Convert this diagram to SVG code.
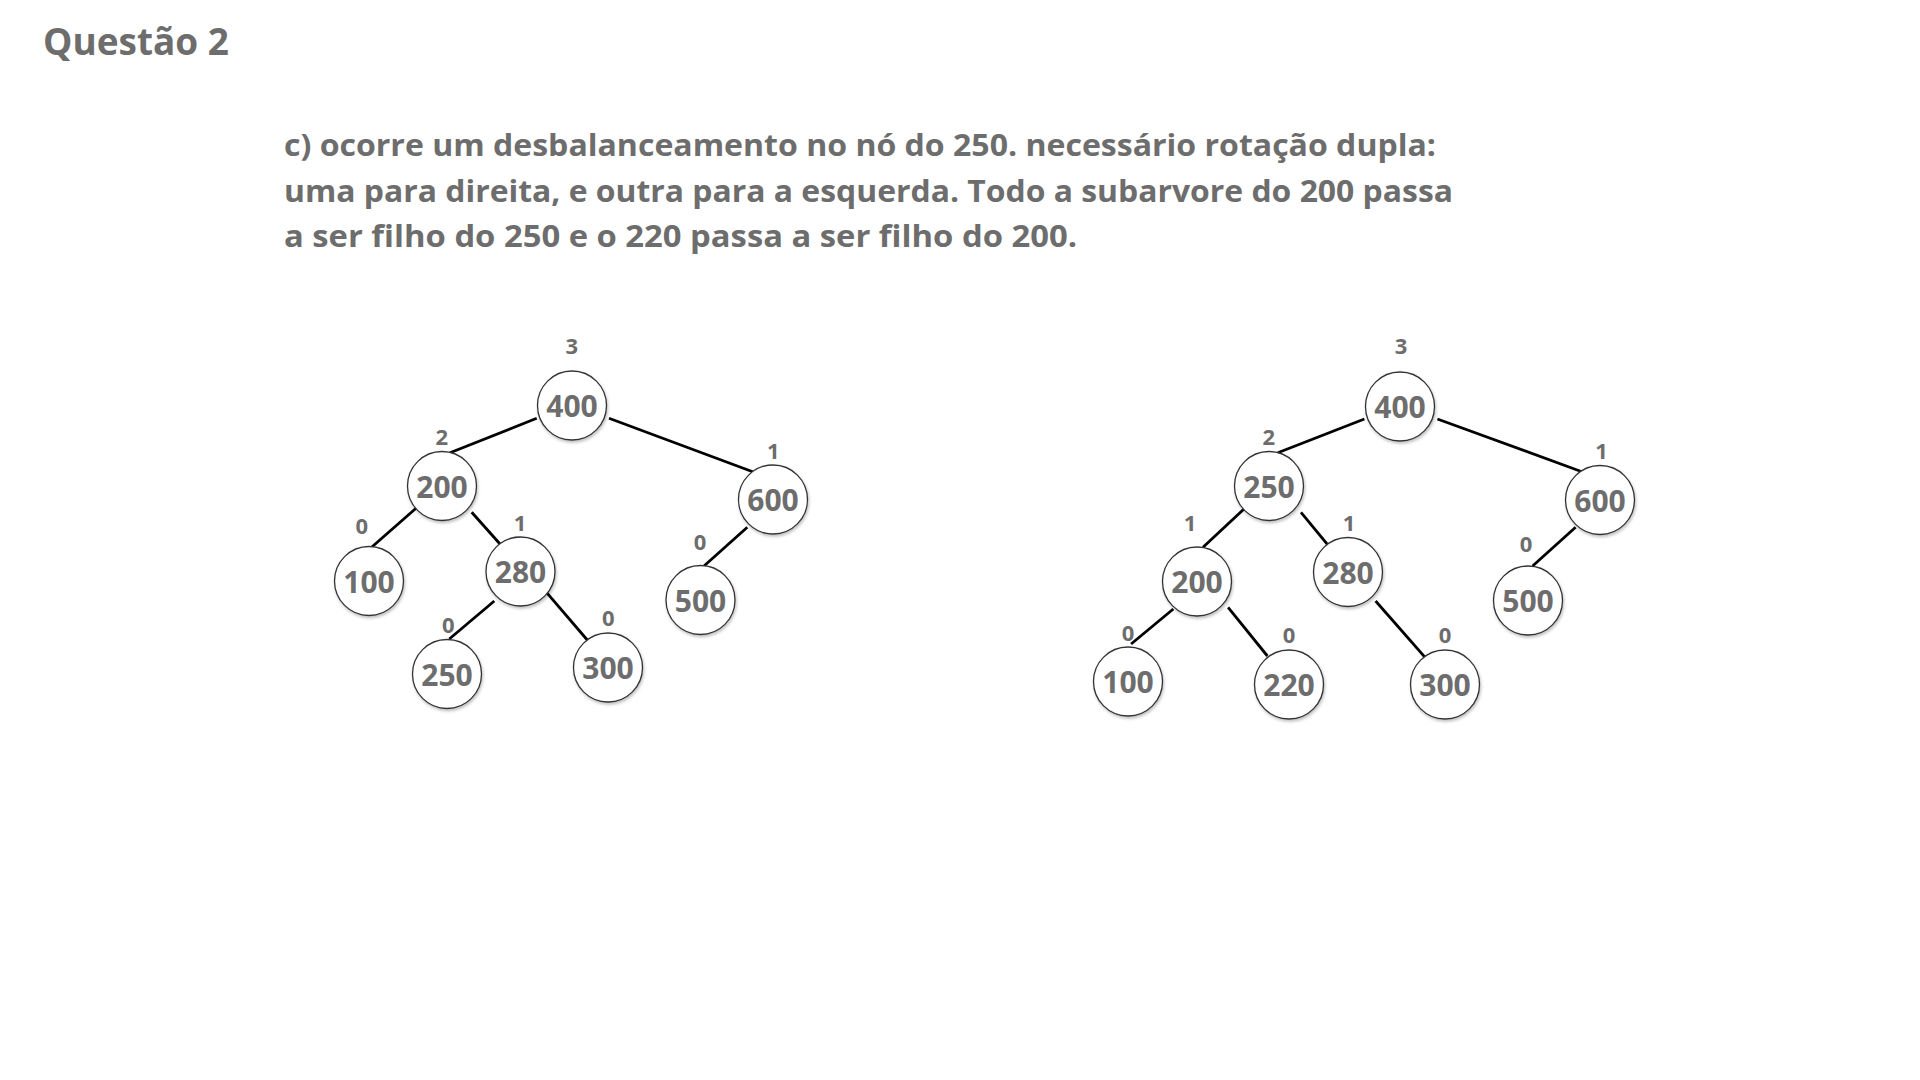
<svg xmlns="http://www.w3.org/2000/svg" width="1920" height="1080" viewBox="0 0 1920 1080">
<defs>
<filter id="sh" x="-30%" y="-30%" width="160%" height="160%">
<feDropShadow dx="1" dy="2" stdDeviation="1.6" flood-color="#000" flood-opacity="0.25"/>
</filter>
<style>
.t{font-family:"Open Sans","Noto Sans","Liberation Sans",sans-serif;font-weight:700;fill:#6d6d6d}
.n circle{fill:#fff;stroke:#333;stroke-width:1.3;filter:url(#sh)}
.n text{font-family:"Open Sans","Noto Sans","Liberation Sans",sans-serif;font-weight:700;font-size:30px;fill:#6d6d6d;text-anchor:middle}
.h{font-family:"Open Sans","Noto Sans","Liberation Sans",sans-serif;font-weight:700;font-size:22px;fill:#6d6d6d;text-anchor:middle}
.e line{stroke:#000;stroke-width:2.8;stroke-linecap:butt}
</style>
</defs>
<rect width="1920" height="1080" fill="#fff"/>
<text class="t" x="43" y="55" font-size="38" textLength="186" lengthAdjust="spacingAndGlyphs">Questão 2</text>
<g id="paragraph">
<text class="t" x="284" y="156" font-size="30" textLength="1152" lengthAdjust="spacingAndGlyphs">c) ocorre um desbalanceamento no nó do 250. necessário rotação dupla:</text>
<text class="t" x="284" y="201.5" font-size="30" textLength="1169" lengthAdjust="spacingAndGlyphs">uma para direita, e outra para a esquerda. Todo a subarvore do 200 passa</text>
<text class="t" x="284" y="247" font-size="30" textLength="793" lengthAdjust="spacingAndGlyphs">a ser filho do 250 e o 220 passa a ser filho do 200.</text>
</g>
<g id="connectors" class="e">
<line x1="536.7" y1="418.3" x2="450" y2="452.7"/>
<line x1="609" y1="418.3" x2="752.7" y2="471.7"/>
<line x1="416" y1="508.3" x2="371" y2="547.7"/>
<line x1="471.7" y1="512.3" x2="500" y2="544"/>
<line x1="747.3" y1="527.3" x2="704" y2="566"/>
<line x1="494.3" y1="601" x2="449.3" y2="639"/>
<line x1="546.7" y1="592.7" x2="587.3" y2="640"/>
<line x1="1364.4" y1="419" x2="1277.8" y2="452.7"/>
<line x1="1437.4" y1="419" x2="1581.9" y2="471.7"/>
<line x1="1244" y1="509" x2="1203" y2="547.3"/>
<line x1="1301" y1="512.3" x2="1327.4" y2="544.3"/>
<line x1="1575.6" y1="527.3" x2="1532.6" y2="566"/>
<line x1="1173.3" y1="609" x2="1131.1" y2="644"/>
<line x1="1228.1" y1="607.3" x2="1267.4" y2="656"/>
<line x1="1375.6" y1="601" x2="1424.4" y2="656.7"/>
</g>
<g id="left-tree">
<g id="L400" class="n"><circle cx="572" cy="405.5" r="34.5"/><text x="572" y="417">400</text></g>
<g id="L200" class="n"><circle cx="442" cy="486" r="34.5"/><text x="442" y="497.5">200</text></g>
<g id="L600" class="n"><circle cx="773" cy="499.5" r="34.5"/><text x="773" y="511">600</text></g>
<g id="L100" class="n"><circle cx="369" cy="581" r="34.5"/><text x="369" y="592.5">100</text></g>
<g id="L280" class="n"><circle cx="520.5" cy="571.5" r="34.5"/><text x="520.5" y="583">280</text></g>
<g id="L500" class="n"><circle cx="700.5" cy="600" r="34.5"/><text x="700.5" y="611.5">500</text></g>
<g id="L250" class="n"><circle cx="447" cy="674" r="34.5"/><text x="447" y="685.5">250</text></g>
<g id="L300" class="n"><circle cx="608" cy="667.5" r="34.5"/><text x="608" y="679">300</text></g>
<g id="left-heights">
<text class="h" x="571.7" y="354">3</text>
<text class="h" x="441.7" y="445.3">2</text>
<text class="h" x="773.3" y="458.7">1</text>
<text class="h" x="361.7" y="534">0</text>
<text class="h" x="520" y="531.3">1</text>
<text class="h" x="700" y="549.7">0</text>
<text class="h" x="448.3" y="633">0</text>
<text class="h" x="608.3" y="626.3">0</text>
</g>
</g>
<g id="right-tree">
<g id="R400" class="n"><circle cx="1400" cy="406.5" r="34.5"/><text x="1400" y="418">400</text></g>
<g id="R250" class="n"><circle cx="1269" cy="486" r="34.5"/><text x="1269" y="497.5">250</text></g>
<g id="R600" class="n"><circle cx="1600" cy="500" r="34.5"/><text x="1600" y="511.5">600</text></g>
<g id="R200" class="n"><circle cx="1197" cy="581.5" r="34.5"/><text x="1197" y="593">200</text></g>
<g id="R280" class="n"><circle cx="1348" cy="572" r="34.5"/><text x="1348" y="583.5">280</text></g>
<g id="R500" class="n"><circle cx="1528" cy="600.5" r="34.5"/><text x="1528" y="612">500</text></g>
<g id="R100" class="n"><circle cx="1128" cy="681.5" r="34.5"/><text x="1128" y="693">100</text></g>
<g id="R220" class="n"><circle cx="1289" cy="684.5" r="34.5"/><text x="1289" y="696">220</text></g>
<g id="R300" class="n"><circle cx="1445" cy="684.5" r="34.5"/><text x="1445" y="696">300</text></g>
<g id="right-heights">
<text class="h" x="1401" y="354">3</text>
<text class="h" x="1268.7" y="444.7">2</text>
<text class="h" x="1601.6" y="458.7">1</text>
<text class="h" x="1190" y="531.3">1</text>
<text class="h" x="1349" y="531.3">1</text>
<text class="h" x="1526" y="552">0</text>
<text class="h" x="1128" y="641.3">0</text>
<text class="h" x="1289" y="643">0</text>
<text class="h" x="1445" y="643">0</text>
</g>
</g>
</svg>
